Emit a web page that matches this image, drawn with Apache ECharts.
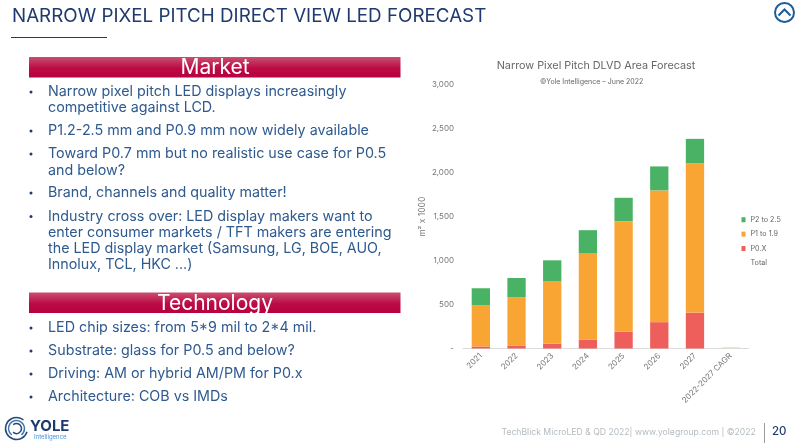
<!DOCTYPE html>
<html><head><meta charset="utf-8">
<style>html,body{margin:0;padding:0;background:#fff}#c{width:800px;height:443px}</style>
<script src="https://cdn.jsdelivr.net/npm/echarts@6/dist/echarts.min.js"></script>
</head><body><div id="c"></div>
<script>
const categories=['2021','2022','2023','2024','2025','2026','2027','2022-2027 CAGR'];
const p0x=[23,34,53,102,190,300,409,null];
const p1to19=[469,549,712,985,1260,1500,1698,null];
const p2to25=[194,220,239,260,266,273,280,null];
const total=[null,null,null,null,null,null,null,15];
const yTicks=[0,500,1000,1500,2000,2500,3000];
const FONT='Inter';
const NAVY='#1f3a6e', BODY='#2f5a8f';
const marketLines=[
 ['Narrow pixel pitch LED displays increasingly',92,true],
 ['competitive against LCD.',108,false],
 ['P1.2-2.5 mm and P0.9 mm now widely available',131,true],
 ['Toward P0.7 mm but no realistic use case for P0.5',154,true],
 ['and below?',170.5,false],
 ['Brand, channels and quality matter!',193,true],
 ['Industry cross over: LED display makers want to',216.5,true],
 ['enter consumer markets / TFT makers are entering',232.5,false],
 ['the LED display market (Samsung, LG, BOE, AUO,',249,false],
 ['Innolux, TCL, HKC ...)',265,false],
 ['LED chip sizes: from 5*9 mil to 2*4 mil.',328,true],
 ['Substrate: glass for P0.5 and below?',351,true],
 ['Driving: AM or hybrid AM/PM for P0.x',374,true],
 ['Architecture: COB vs IMDs',397,true]
];
const txt=(t,x,y,size,color,extra)=>({type:'text',x,y,silent:true,style:Object.assign({text:t,fontFamily:FONT,fontSize:size,fill:color,textAlign:'left',textVerticalAlign:'middle'},extra||{})});
const band=(y,label)=>[
 {type:'rect',shape:{x:29,y:y,width:371.5,height:20.5},style:{fill:{type:'linear',x:0,y:0,x2:0,y2:1,colorStops:[{offset:0,color:'#c9506f'},{offset:0.55,color:'#bc0a45'},{offset:1,color:'#b80040'}]}}},
 txt(label,215,y+11,21,'#ffffff',{textAlign:'center'})
];
const g=[
 txt('NARROW PIXEL PITCH DIRECT VIEW LED FORECAST',12,16,18.8,NAVY),
 {type:'line',shape:{x1:11,y1:37.5,x2:107,y2:37.5},style:{stroke:NAVY,lineWidth:1}},
 ...band(57,'Market'),...band(292.5,'Technology'),
 txt('©Yole Intelligence – June 2022',540,81.5,7,'#666666'),
 txt('TechBlick MicroLED & QD 2022| www.yolegroup.com | ©2022',501.5,432,8.65,'#b4bcc2'),
 {type:'line',shape:{x1:764.5,y1:423,x2:764.5,y2:443},style:{stroke:'#9a9a9a',lineWidth:1}},
 txt('20',772,432,11.5,NAVY,{fontWeight:500}),
 {type:'circle',shape:{cx:784.5,cy:12.5,r:9.5},style:{fill:'#fff',stroke:'#1d5c96',lineWidth:2}},
 {type:'polyline',shape:{points:[[778.5,15.5],[784.5,9.5],[790.5,15.5]]},style:{stroke:'#1d5c96',lineWidth:2,fill:'none'}},
 {type:'arc',shape:{cx:16.5,cy:428.5,r:11,startAngle:0.3,endAngle:5.4},style:{stroke:'#274a7a',lineWidth:1.5,fill:'none'}},
 {type:'arc',shape:{cx:16.5,cy:428.5,r:8,startAngle:2.2,endAngle:7.2},style:{stroke:'#3d78ad',lineWidth:1.5,fill:'none'}},
 {type:'arc',shape:{cx:16.5,cy:428.5,r:5,startAngle:4,endAngle:8.6},style:{stroke:'#274a7a',lineWidth:1.5,fill:'none'}},
 txt('YOLE',30,426.5,15,'#1f3a6e',{fontWeight:700}),
 txt('Intelligence',34,437,6,'#4a90d9')
];
marketLines.forEach(l=>{
 g.push(txt(l[0],48,l[1],14.3,BODY));
 if(l[2]) g.push({type:'circle',shape:{cx:31,cy:l[1],r:1.5},style:{fill:NAVY}});
});
const chart=echarts.init(document.getElementById('c'),null,{renderer:'canvas'});
const barBase={type:'bar',stack:'a',barWidth:18.3};
chart.setOption({
 animation:false,backgroundColor:'#fff',
 title:{text:'Narrow Pixel Pitch DLVD Area Forecast',left:596,top:60,textAlign:'center',padding:0,textStyle:{fontFamily:FONT,fontSize:10.8,fontWeight:400,color:'#666'}},
 grid:{left:463,right:51.5,top:85,bottom:94.5,containLabel:false},
 legend:{orient:'vertical',left:741.5,top:215.5,padding:0,itemWidth:4,itemHeight:5,itemGap:5.9,icon:'rect',
  textStyle:{fontFamily:FONT,fontSize:7.2,lineHeight:8.5,color:'#666'},
  data:[{name:'P2 to 2.5'},{name:'P1 to 1.9'},{name:'P0.X'},{name:'Total',itemStyle:{color:'transparent'}}]},
 xAxis:{type:'category',data:categories,axisTick:{show:false},
  axisLine:{lineStyle:{color:'#dcdcdc'}},
  axisLabel:{rotate:45,interval:0,fontFamily:FONT,fontSize:8,color:'#777',margin:6}},
 yAxis:{type:'value',min:0,max:3000,interval:500,name:'m² x 1000',nameLocation:'middle',nameGap:36,
  nameTextStyle:{fontFamily:FONT,fontSize:8.5,color:'#777'},splitLine:{show:false},axisLine:{show:false},axisTick:{show:false},
  axisLabel:{fontFamily:FONT,fontSize:8,color:'#777',margin:9,formatter:v=>yTicks.includes(v)?(v===0?'-':v.toLocaleString('en-US')):''}},
 graphic:{elements:g},
 series:[
  Object.assign({},barBase,{name:'P0.X',data:p0x,itemStyle:{color:'#ee5f5b'}}),
  Object.assign({},barBase,{name:'P1 to 1.9',data:p1to19,itemStyle:{color:'#f9a533'}}),
  Object.assign({},barBase,{name:'P2 to 2.5',data:p2to25,itemStyle:{color:'#49b265'}}),
  Object.assign({},barBase,{name:'Total',data:total,itemStyle:{color:'#e3e1cc'}})
 ]
});
</script></body></html>
